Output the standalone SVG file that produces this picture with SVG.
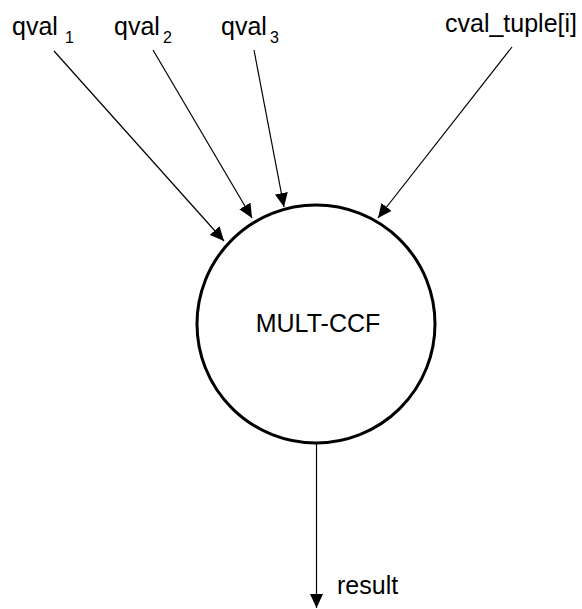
<svg xmlns="http://www.w3.org/2000/svg" width="582" height="609" viewBox="0 0 582 609">
  <style>
    .lbl { font-family: "Liberation Sans", Arial, sans-serif; font-size: 25px; fill: #000; }
    .sub { font-family: "Liberation Sans", Arial, sans-serif; font-size: 16px; fill: #000; }
    .edge { stroke: #000; stroke-width: 1.2; fill: none; marker-end: url(#arrow); }
    .node { fill: #fff; stroke: #000; stroke-width: 3; }
  </style>
  <defs>
    <marker id="arrow" markerUnits="userSpaceOnUse" markerWidth="14" markerHeight="13" viewBox="0 0 14 13" refX="14" refY="6.5" orient="auto">
      <path d="M0,0 L14,6.5 L0,13 Z" fill="#000"/>
    </marker>
  </defs>
  <rect width="582" height="609" fill="#fff"/>

  <g id="connectors">
    <line class="edge" x1="54" y1="51" x2="224" y2="241"/>
    <line class="edge" x1="153" y1="50" x2="252" y2="218"/>
    <line class="edge" x1="254" y1="50" x2="284" y2="207"/>
    <line class="edge" x1="512" y1="47" x2="378" y2="218"/>
    <line class="edge" x1="316.5" y1="443" x2="316.5" y2="608"/>
  </g>

  <g id="mult-ccf">
    <circle class="node" cx="316" cy="324" r="119"/>
    <text class="lbl" x="318" y="332" text-anchor="middle">MULT-CCF</text>
  </g>

  <g id="qval1">
    <text class="lbl" x="12" y="35">qval</text>
    <text class="sub" x="65" y="43">1</text>
  </g>
  <g id="qval2">
    <text class="lbl" x="114" y="35">qval</text>
    <text class="sub" x="163" y="43">2</text>
  </g>
  <g id="qval3">
    <text class="lbl" x="221" y="35">qval</text>
    <text class="sub" x="270" y="43">3</text>
  </g>
  <g id="cval-tuple">
    <text class="lbl" x="445" y="32">cval_tuple[i]</text>
  </g>
  <g id="result">
    <text class="lbl" x="337" y="594" font-size="24">result</text>
  </g>
</svg>
